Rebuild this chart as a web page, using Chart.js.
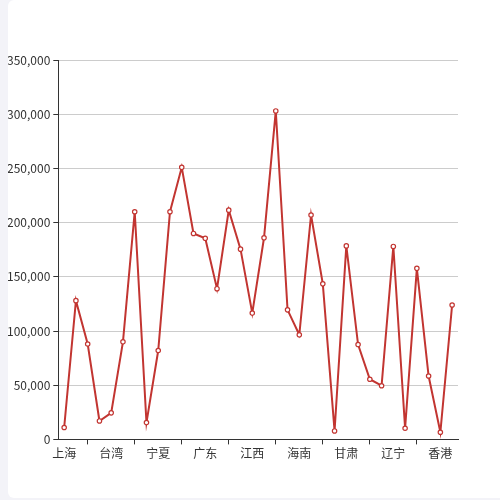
<!DOCTYPE html>
<html>
<head>
<meta charset="utf-8">
<script src="https://cdn.jsdelivr.net/npm/chart.js@4/dist/chart.umd.min.js"></script>
<style>
  html, body { margin: 0; padding: 0; background: #f3f3f8; width: 500px; height: 500px; overflow: hidden; }
  #card { position: absolute; left: 8px; top: 0; width: 510px; height: 498px; background: #fff; border-radius: 6px; overflow: hidden; }
  #wrap { position: absolute; left: -8px; top: 0; width: 500px; height: 500px; }
</style>
</head>
<body>
<div id="card"><div id="wrap"><canvas id="c" width="500" height="500"></canvas></div></div>
<script>
const categories = ['上海','云南','内蒙古','北京','台湾','吉林','四川','天津','宁夏','安徽','山东','山西','广东','广西','新疆','江苏','江西','河北','河南','浙江','海南','湖北','湖南','澳门','甘肃','福建','西藏','贵州','辽宁','重庆','陕西','青海','香港','黑龙江'];
const values = [11000,128000,88000,17000,24500,90000,210000,15500,82000,210000,251000,190000,185500,139000,211500,175500,116500,186000,303000,119500,96500,207000,143500,7800,178500,87500,55500,49500,178000,10300,157800,58500,6600,124000];
const yTicks = [0,50000,100000,150000,200000,250000,300000,350000];

const FONT = '"Noto Sans CJK SC", "Noto Sans", sans-serif';
new Chart(document.getElementById('c'), {
  type: 'line',
  data: {
    labels: categories,
    datasets: [{
      data: values,
      borderColor: '#c23531',
      borderWidth: 2,
      tension: 0,
      pointRadius: 2.2,
      pointBorderWidth: 1.2,
      pointBackgroundColor: '#fff',
      pointBorderColor: '#c23531',
      fill: false
    }]
  },
  options: {
    responsive: false,
    animation: false,
    devicePixelRatio: 1,
    layout: { padding: { top: 60, right: 42, bottom: 0, left: 0 } },
    plugins: { legend: { display: false }, tooltip: { enabled: false } },
    scales: {
      x: {
        type: 'category',
        offset: true,
        grid: {
          offset: false,
          drawOnChartArea: false,
          tickLength: 5,
          tickColor: ctx => (ctx.index % 4 === 2 ? '#333' : 'rgba(0,0,0,0)')
        },
        border: { color: '#333', width: 1 },
        ticks: {
          autoSkip: false,
          maxRotation: 0,
          minRotation: 0,
          padding: 2,
          color: '#333',
          font: { family: FONT, size: 12 },
          callback: (v, i) => (i % 4 === 0 ? categories[i] : '')
        },
        afterFit: s => { s.height = 60.6; }
      },
      y: {
        min: yTicks[0],
        max: yTicks[yTicks.length - 1],
        afterBuildTicks: s => { s.ticks = yTicks.map(v => ({ value: v })); },
        grid: { color: '#ccc', tickColor: '#333', tickLength: 5, lineWidth: 1 },
        border: { color: '#333', width: 1 },
        ticks: {
          padding: 3,
          color: '#333',
          font: { family: FONT, size: 12 },
          callback: v => Number(v).toLocaleString('en-US')
        },
        afterFit: s => { s.width = 58.3; }
      }
    }
  }
});
</script>
</body>
</html>
